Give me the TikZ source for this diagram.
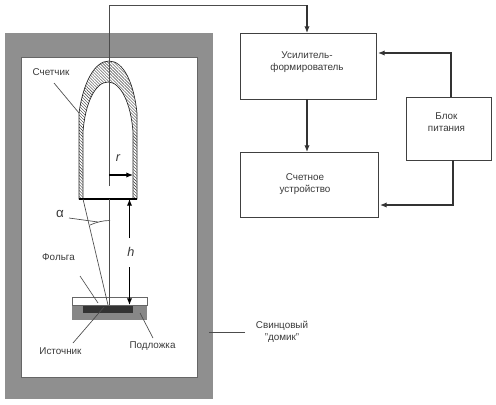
\documentclass[tikz,border=0pt]{standalone}
\usepackage{fontspec}
\setmainfont{Liberation Sans}
\usetikzlibrary{patterns.meta,arrows.meta}
\definecolor{wallgray}{HTML}{8F8F8F}
\definecolor{subgray}{HTML}{9A9A9A}
\definecolor{srcdark}{HTML}{333333}
\definecolor{labelc}{HTML}{3A3A3A}
\tikzset{
 x=0.75pt,y=-0.75pt,
 block/.style={draw=black!75,line width=0.75pt,fill=white,inner sep=0pt,anchor=north west},
 lbl/.style={font=\fontsize{7.4pt}{9pt}\selectfont,text=labelc,align=center,inner sep=0pt},
 thin line/.style={draw=black!70,line width=0.5pt},
 conn/.style={draw=black!80,line width=0.9pt,-{Latex[length=5pt,width=4pt]}},
 dim/.style={draw=black,line width=0.9pt,-{Latex[length=5pt,width=4pt]}},
 hatch/.style={pattern={Lines[angle=-45,distance=1.6pt,line width=0.3pt]},pattern color=black!80},
 speckle/.style={pattern={Dots[distance=1.5pt,radius=0.4pt]},pattern color=black!70},
}
\begin{document}
\begin{tikzpicture}
\useasboundingbox (0,0) rectangle (496,404);
\fill[white] (0,0) rectangle (496,404);
% lead house
\fill[wallgray] (5,32.5) rectangle (213,399);
\fill[white] (21.5,57) rectangle (197,377);
\draw[black!60,line width=0.4pt] (21.5,57) rectangle (197,377);
% counter
\path[fill=white] (79,199) -- (79,113) .. controls (83,84) and (94,61) .. (109,61) .. controls (124,61) and (134,84) .. (137,113) -- (137,199) -- cycle;
\path[hatch] (79,199) -- (79,113) .. controls (83,84) and (94,61) .. (109,61) .. controls (124,61) and (134,84) .. (137,113) -- (137,199) -- cycle;
\draw[black!85,line width=0.5pt] (79,199) -- (79,113) .. controls (83,84) and (94,61) .. (109,61) .. controls (124,61) and (134,84) .. (137,113) -- (137,199) -- cycle;
\path[draw=black!85,line width=0.5pt,fill=white] (83,199) -- (83,132) .. controls (85,104) and (95,82) .. (108,82) .. controls (121,82) and (131,104) .. (133,132) -- (133,199) -- cycle;
\draw[black,line width=0.8pt] (79,199) -- (137,199);
% blocks
\node[block,minimum width=102pt,minimum height=49.5pt] (amp) at (240,33) {};
\node[block,minimum width=103.5pt,minimum height=48.75pt] (cnt) at (240,152) {};
\node[block,minimum width=63.75pt,minimum height=47.25pt] (pwr) at (406,97) {};
\node[lbl] at (307,62.5) {Усилитель-\\формирователь};
\node[lbl] at (305,184) {Счетное\\устройство};
\node[lbl] at (446.5,122.5) {Блок\\питания};
% connectors
\coordinate (ampin) at (307,33);
\coordinate (wireTop) at (307,5);
\coordinate (wireStart) at (109.5,5);
\draw[thin line] (109.5,186) -- (wireStart) -- (wireTop);
\draw[conn] (wireTop) -- (ampin);
\draw[conn] (307,99) -- (307,152);
\draw[conn] (451,97) -- (451,53) -- (378,53);
\draw[conn] (453,160) -- (453,205) -- (380,205);
% source assembly
\fill[subgray] (72,305) rectangle (147,319.5);
\path[speckle] (72,305) rectangle (147,319.5);
\fill[srcdark] (83,305) rectangle (133,313);
\draw[black!60,line width=0.5pt,fill=white] (72,297.5) rectangle (147,305);
% central and beam
\draw[thin line] (109.5,199) -- (109.5,305);
\draw[thin line] (83,199) -- (108,305);
\draw[thin line] (90,225) .. controls (97,222) and (103,220.5) .. (110,220.5);
% leaders
\coordinate (lc) at (54,83); \coordinate (lc2) at (79,113);
\draw[thin line] (lc) -- (lc2);
\coordinate (la) at (69,218); \coordinate (la2) at (98,222);
\draw[thin line] (la) -- (la2);
\coordinate (lf) at (80,276); \coordinate (lf2) at (98,303);
\draw[thin line] (lf) -- (lf2);
\coordinate (li) at (73,343); \coordinate (li2) at (104,307);
\draw[thin line] (li) -- (li2);
\coordinate (lp) at (153,338); \coordinate (lp2) at (140,313);
\draw[thin line] (lp) -- (lp2);
\coordinate (ls) at (245,332); \coordinate (ls2) at (209,332);
\draw[thin line] (ls) -- (ls2);
% dims
\coordinate (ra) at (109,175); \coordinate (rb) at (133,175);
\draw[dim] (ra) -- (rb);
\coordinate (h0) at (129.5,238); \coordinate (h1) at (129.5,199);
\draw[dim] (h0) -- (h1);
\coordinate (h2) at (129.5,267); \coordinate (h3) at (129.5,305);
\draw[dim] (h2) -- (h3);
% labels
\node[lbl] at (118,158) {\fontsize{9.5pt}{9.5pt}\selectfont\itshape r};
\node[lbl] at (131,252) {\fontsize{9.5pt}{9.5pt}\selectfont\itshape h};
\node[lbl] at (60,214) {\fontsize{10pt}{10pt}\selectfont α};
\node[lbl] at (51,72) {Счетчик};
\node[lbl] at (58.5,257) {Фольга};
\node[lbl] at (60.5,351) {Источник};
\node[lbl] at (152.5,346) {Подложка};
\node[lbl] at (282,332) {Свинцовый\\"домик"};
\end{tikzpicture}
\end{document}
